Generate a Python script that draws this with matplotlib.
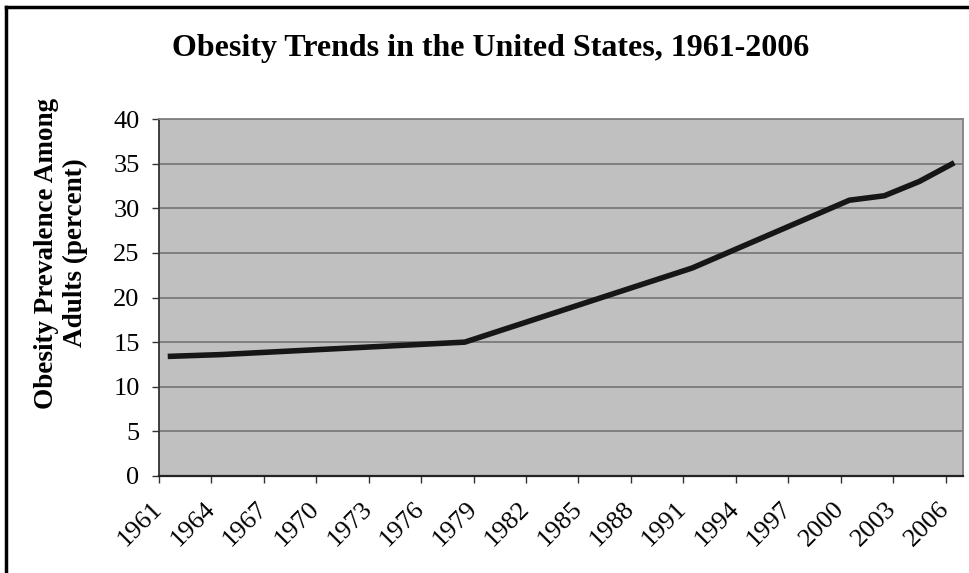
"""
Obesity trends in the US, 1961-2006 (Excel-style line chart)
"""
import matplotlib
matplotlib.use('Agg')
import matplotlib.pyplot as plt
from matplotlib.lines import Line2D

# datos (vertices de la linea)
years = [1961, 1964, 1973, 1978, 1991, 2000, 2002, 2004, 2006]
prevalence = [13.4, 13.6, 14.5, 15.0, 23.3, 30.9, 31.4, 33.0, 35.1]

tick_years = list(range(1961, 2007, 3))
y_ticks = [0, 5, 10, 15, 20, 25, 30, 35, 40]

title = 'Obesity Trends in the United States, 1961-2006'
ylabel = 'Obesity Prevalence Among\nAdults (percent)'

plt.rcParams['font.family'] = ['Liberation Serif', 'DejaVu Serif']

fig = plt.figure(figsize=(9.69, 5.73), dpi=100)
ax = fig.add_axes([159 / 969, 1 - 476 / 573, (963 - 159) / 969, (476 - 119) / 573])

ax.set_facecolor('#c0c0c0')
ax.plot(years, prevalence, color='#161616', linewidth=4.0, solid_capstyle='butt', zorder=3)

ax.set_xlim(1960.5, 2006.5)
ax.set_ylim(0, 40)
ax.set_yticks(y_ticks)
ax.set_xticks([y - 0.5 for y in tick_years])
ax.set_xticklabels([str(y) for y in tick_years], rotation=45, ha='right', va='center',
                   rotation_mode='anchor')
ax.tick_params(axis='x', length=5, width=1, color='#333333', labelsize=19, pad=16)
ax.tick_params(axis='y', length=5, width=1, color='#333333', labelsize=19, pad=9)

ax.grid(axis='y', color='#6e6e6e', linewidth=1.1)
ax.set_axisbelow(True)

ax.spines['left'].set_color('#333333')
ax.spines['bottom'].set_color('#222222')
ax.spines['left'].set_linewidth(1.3)
ax.spines['bottom'].set_linewidth(1.6)
for s in ['top', 'right']:
    ax.spines[s].set_color('#808080')
    ax.spines[s].set_linewidth(1.3)

fig.text(0.506, 0.915, title, ha='center', va='center', fontsize=23, fontweight='bold')
fig.text(0.0625, 0.5585, ylabel, ha='center', va='center', rotation=90,
         multialignment='center', fontsize=19.5, fontweight='bold', linespacing=1.2)

# marco del grafico (solo arriba e izquierda visibles)
fig.add_artist(Line2D([5.5 / 969, 5.5 / 969], [0, 1 - 6.5 / 573], color='black', linewidth=2.5,
                      transform=fig.transFigure))
fig.add_artist(Line2D([5.5 / 969, 1], [1 - 6.5 / 573, 1 - 6.5 / 573], color='black', linewidth=2.5,
                      transform=fig.transFigure))

fig.savefig('out.png', dpi=100)
